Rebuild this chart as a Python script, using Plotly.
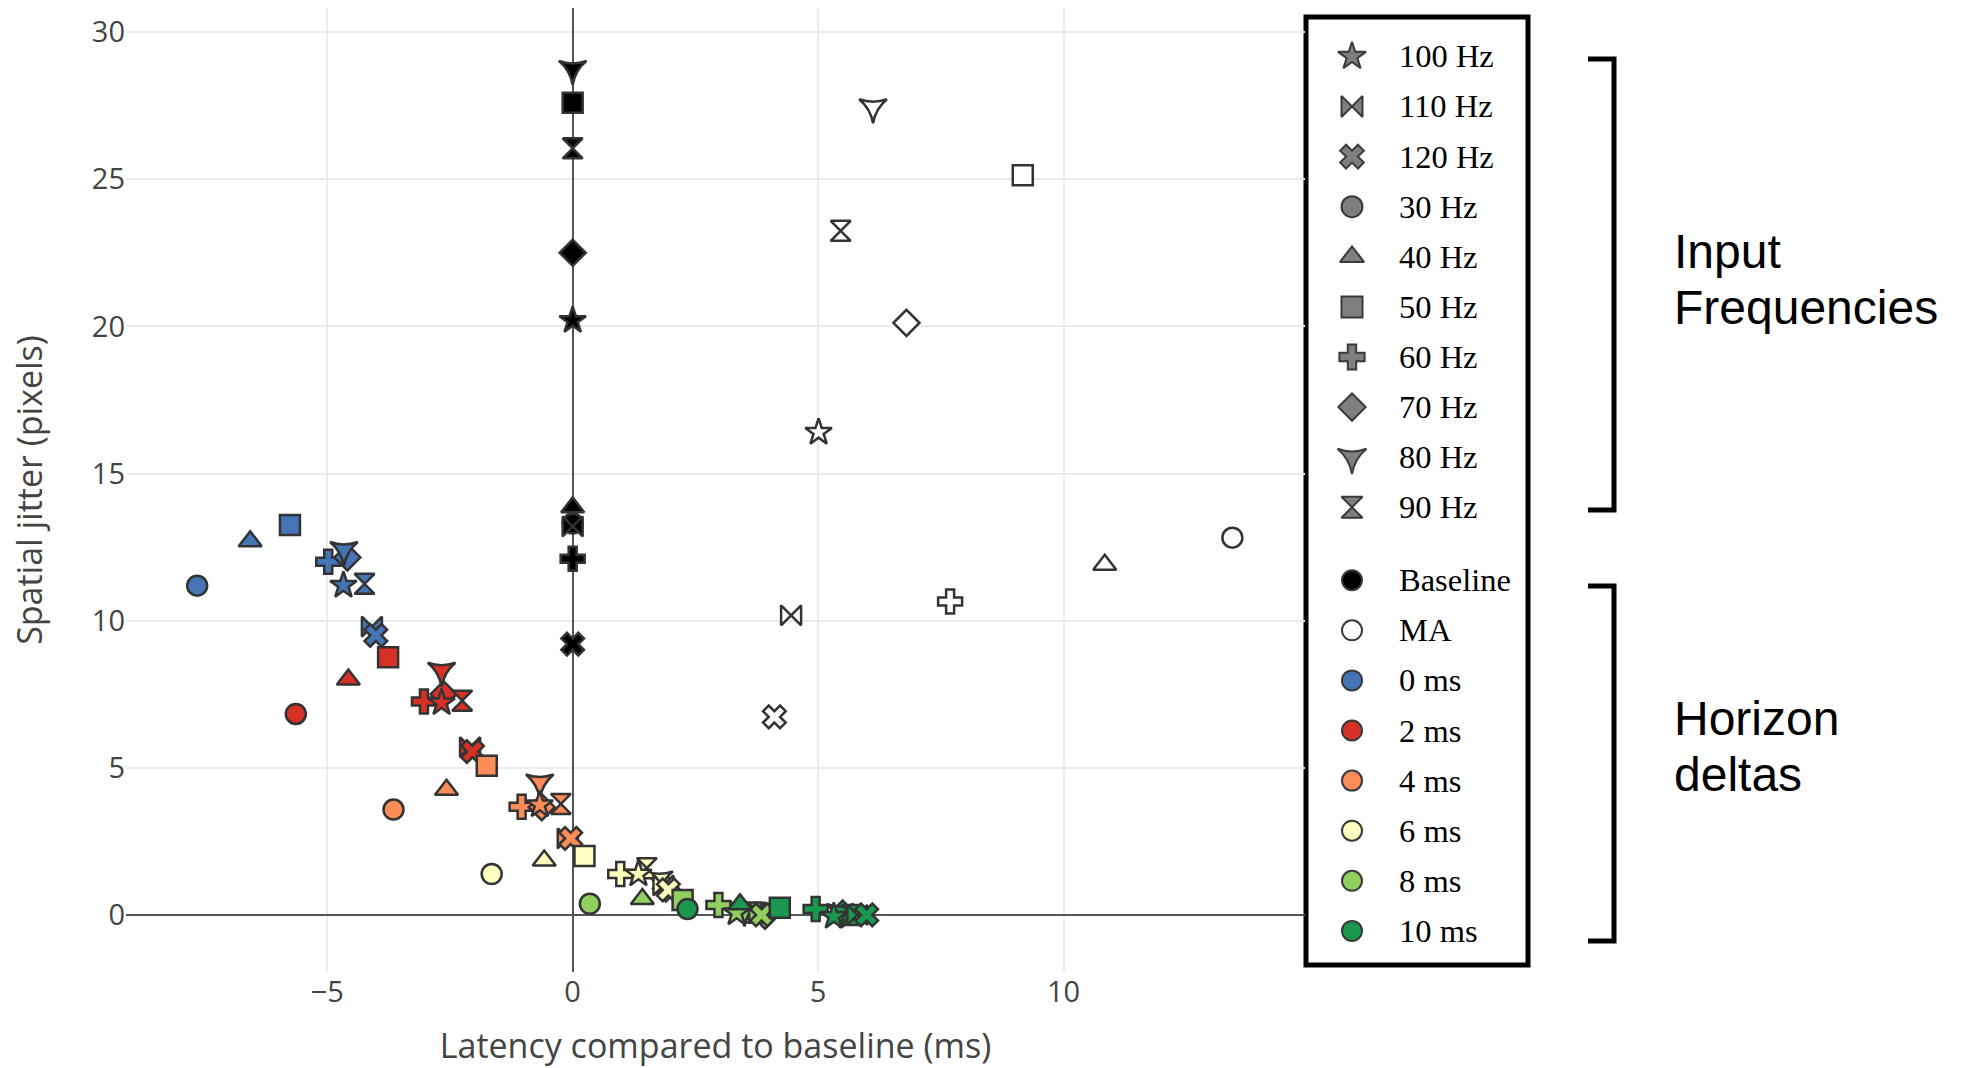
import plotly.graph_objects as go

# ---- data -------------------------------------------------------------
frequencies = ['30 Hz', '40 Hz', '50 Hz', '60 Hz', '70 Hz',
               '80 Hz', '90 Hz', '100 Hz', '110 Hz', '120 Hz']
freq_symbols = ['circle', 'triangle-up', 'square', 'cross', 'diamond',
                'star-triangle-down', 'hourglass', 'star', 'bowtie', 'x']

horizons = ['Baseline', 'MA', '0 ms', '2 ms', '4 ms', '6 ms', '8 ms', '10 ms']
horizon_colors = ['#000000', '#ffffff', '#4575b4', '#d73027',
                  '#fc8d59', '#ffffbf', '#91cf60', '#1a9850']

# latency vs. baseline (ms) and spatial jitter (px), ordered as `frequencies`
baseline_latency = [0, 0, 0, 0, 0, 0, 0, 0, 0, 0]
baseline_jitter = [13.3, 13.85, 27.6, 12.1, 22.5, 28.75, 26.05, 20.2, 13.2, 9.2]

ma_latency = [13.44, 10.84, 9.17, 7.69, 6.80, 6.12, 5.46, 5.01, 4.45, 4.11]
ma_jitter = [12.82, 11.90, 25.14, 10.65, 20.12, 27.45, 23.25, 16.40, 10.18, 6.73]

h0_latency = [-7.65, -6.57, -5.76, -4.98, -4.59, -4.66, -4.24, -4.67, -4.09, -4.01]
h0_jitter = [11.19, 12.70, 13.25, 12.00, 12.15, 12.40, 11.25, 11.20, 9.80, 9.50]

h2_latency = [-5.64, -4.57, -3.76, -3.03, -2.63, -2.67, -2.25, -2.67, -2.09, -2.04]
h2_jitter = [6.83, 8.00, 8.76, 7.25, 7.50, 8.30, 7.28, 7.21, 5.70, 5.55]

h4_latency = [-3.65, -2.57, -1.75, -1.04, -0.63, -0.67, -0.24, -0.67, -0.10, -0.04]
h4_jitter = [3.58, 4.25, 5.07, 3.68, 3.66, 4.50, 3.77, 3.74, 2.60, 2.60]

h6_latency = [-1.65, -0.58, 0.24, 0.97, 1.90, 1.76, 1.51, 1.34, 1.85, 1.95]
h6_jitter = [1.39, 1.85, 2.00, 1.39, 0.90, 1.21, 1.59, 1.39, 1.00, 0.85]

h8_latency = [0.35, 1.42, 2.24, 2.97, 3.92, 3.50, 3.68, 3.34, 3.80, 3.85]
h8_jitter = [0.38, 0.54, 0.51, 0.34, -0.03, 0.15, 0.08, 0.07, 0.05, 0.00]

h10_latency = [2.34, 3.41, 4.22, 4.95, 5.50, 5.45, 5.68, 5.32, 5.80, 5.99]
h10_jitter = [0.20, 0.36, 0.24, 0.20, 0.05, 0.10, 0.00, -0.05, 0.00, 0.00]

latency_by_horizon = [baseline_latency, ma_latency, h0_latency, h2_latency,
                      h4_latency, h6_latency, h8_latency, h10_latency]
jitter_by_horizon = [baseline_jitter, ma_jitter, h0_jitter, h2_jitter,
                     h4_jitter, h6_jitter, h8_jitter, h10_jitter]

# ---- page geometry ----------------------------------------------------
W, H = 1965, 1068
M_L, M_R, M_T, M_B = 126, 0, 8, 96
PLOT_W = W - M_L - M_R
PLOT_H = H - M_T - M_B


def paper_x(px):
    return (px - M_L) / PLOT_W


def paper_y(py):
    return (H - M_B - py) / PLOT_H


fig = go.Figure()

# ---- scatter of every frequency / horizon combination -----------------
for name, color, xs, ys in zip(horizons, horizon_colors,
                               latency_by_horizon, jitter_by_horizon):
    fig.add_trace(go.Scatter(
        x=xs, y=ys, mode='markers', name=name,
        text=frequencies, showlegend=False,
        marker=dict(symbol=freq_symbols, size=20, color=color,
                    line=dict(color='#333333', width=2.5)),
        xaxis='x', yaxis='y',
    ))

# ---- custom key drawn in its own small subplot ------------------------
BOX_L, BOX_R, BOX_T, BOX_B = 1306, 1528, 17, 965
ROW_STEP = 50.1
KEY_MARK_X = 46
KEY_TEXT_X = 91

freq_key = sorted(frequencies)
freq_key_sym = [freq_symbols[frequencies.index(f)] for f in freq_key]
freq_rows = [39.4 + ROW_STEP * i for i in range(len(freq_key))]
hz_rows = [563.2 + ROW_STEP * i for i in range(len(horizons))]

fig.add_trace(go.Scatter(
    x=[KEY_MARK_X] * len(freq_key), y=freq_rows, mode='markers',
    showlegend=False, hoverinfo='skip',
    marker=dict(symbol=freq_key_sym, size=21, color='#7f7f7f',
                line=dict(color='#3a3a3a', width=2)),
    xaxis='x2', yaxis='y2',
))
fig.add_trace(go.Scatter(
    x=[KEY_MARK_X] * len(horizons), y=hz_rows, mode='markers',
    showlegend=False, hoverinfo='skip',
    marker=dict(symbol='circle', size=20, color=horizon_colors,
                line=dict(color='#3a3a3a', width=2)),
    xaxis='x2', yaxis='y2',
))

annotations = []
for label, row in zip(freq_key + horizons, freq_rows + hz_rows):
    annotations.append(dict(
        x=KEY_TEXT_X, y=row, xref='x2', yref='y2', text=label,
        showarrow=False, xanchor='left', yanchor='middle',
        font=dict(family='Liberation Serif', size=32.5, color='black'),
    ))

# group captions next to the brackets
for text, py in [('Input', 251), ('Frequencies', 307),
                 ('Horizon', 718), ('deltas', 774)]:
    annotations.append(dict(
        x=paper_x(1672), y=paper_y(py), xref='paper', yref='paper',
        text=text, showarrow=False, xanchor='left', yanchor='middle',
        font=dict(family='Liberation Sans', size=48, color='black'),
    ))

shapes = [
    dict(type='rect', xref='paper', yref='paper', layer='below',
         x0=paper_x(BOX_L), x1=paper_x(BOX_R),
         y0=paper_y(BOX_B), y1=paper_y(BOX_T),
         line=dict(color='black', width=5), fillcolor='white'),
]
BR_X, BR_TICK = 1614, 1588
for top, bot in [(59, 510), (586, 941)]:
    path = 'M {a},{t} L {b},{t} L {b},{u} L {a},{u}'.format(
        a=paper_x(BR_TICK), b=paper_x(BR_X),
        t=paper_y(top), u=paper_y(bot))
    shapes.append(dict(type='path', xref='paper', yref='paper', path=path,
                       line=dict(color='black', width=5)))

axis_font = dict(family='Open Sans', size=29, color='#444444')
title_font = dict(family='Open Sans', size=34, color='#444444')

fig.update_layout(
    template='plotly_white',
    width=W, height=H,
    margin=dict(l=M_L, r=M_R, t=M_T, b=M_B),
    paper_bgcolor='white', plot_bgcolor='white',
    showlegend=False,
    xaxis=dict(
        domain=[0, paper_x(1305)], range=[-9.10, 14.92],
        dtick=5, tick0=0, showgrid=True, gridcolor='#ebebeb', gridwidth=2,
        zeroline=True, zerolinecolor='#555555', zerolinewidth=2,
        showline=False, ticks='', tickfont=axis_font,
        title=dict(text='Latency compared to baseline (ms)',
                   font=title_font, standoff=25),
    ),
    yaxis=dict(
        domain=[0, 1], range=[-1.94, 30.82],
        dtick=5, tick0=0, showgrid=True, gridcolor='#ebebeb', gridwidth=2,
        zeroline=True, zerolinecolor='#555555', zerolinewidth=2,
        showline=False, ticks='', tickfont=axis_font,
        title=dict(text='Spatial jitter (pixels)',
                   font=title_font, standoff=38),
    ),
    xaxis2=dict(domain=[paper_x(BOX_L), paper_x(BOX_R)],
                range=[0, BOX_R - BOX_L], visible=False, fixedrange=True,
                anchor='y2'),
    yaxis2=dict(domain=[paper_y(BOX_B), paper_y(BOX_T)],
                range=[BOX_B - BOX_T, 0], visible=False, fixedrange=True,
                anchor='x2'),
    annotations=annotations,
    shapes=shapes,
)

fig.write_html('out.html')
